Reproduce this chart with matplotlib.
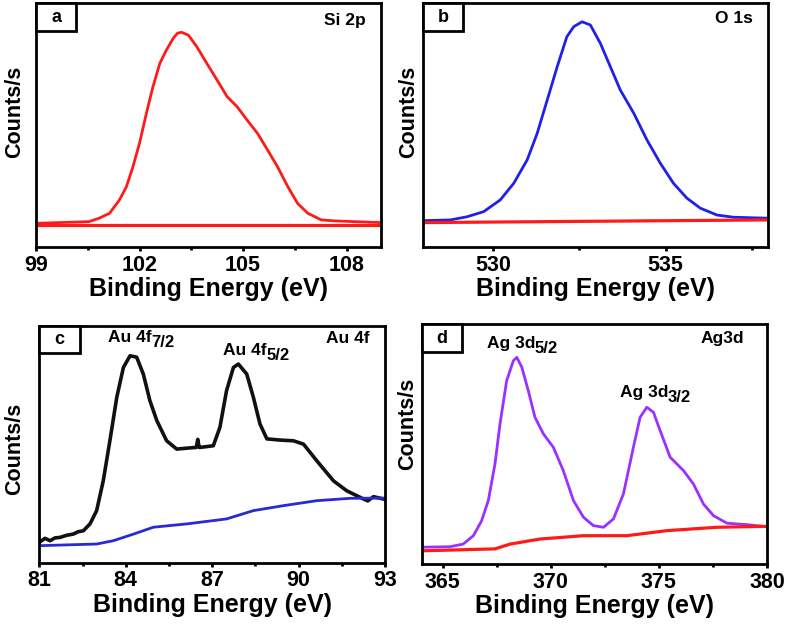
import matplotlib
matplotlib.use("Agg")
import matplotlib.pyplot as plt
from matplotlib.patches import Rectangle

plt.rcParams['font.family'] = ['Liberation Sans', 'DejaVu Sans']
plt.rcParams['font.weight'] = 'bold'

# ---------------- data ----------------
# (a) Si 2p
si_x = [99.0, 100.54, 100.83, 101.13, 101.42, 101.62, 101.81, 102.0, 102.2, 102.39, 102.59, 102.78,
        102.98, 103.1, 103.22, 103.42, 103.66, 103.95, 104.25, 104.54, 104.83, 105.12, 105.42, 105.71,
        106.0, 106.3, 106.58, 106.88, 107.27, 107.65, 109.0]
si_y = [9.7, 10.4, 11.8, 13.8, 19.3, 24.7, 32.9, 42.5, 54.8, 65.7, 75.3, 80.7, 85.6, 87.6, 88.0,
        86.8, 82.1, 75.3, 68.4, 61.6, 57.5, 52.0, 46.6, 39.8, 32.9, 24.7, 17.9, 13.8, 11.1, 10.7, 10.0]
si_bg_x = [99.0, 109.0]
si_bg_y = [9.0, 9.0]

# (b) O 1s
o_x = [527.97, 528.76, 529.25, 529.73, 530.21, 530.6, 530.99, 531.28, 531.57, 531.86, 532.14,
       532.34, 532.58, 532.82, 533.11, 533.4, 533.69, 534.08, 534.46, 534.85, 535.23, 535.62,
       536.01, 536.49, 536.97, 537.97]
o_y = [10.8, 11.1, 12.4, 14.5, 19.3, 26.1, 35.7, 46.6, 60.2, 73.9, 86.2, 90.3, 92.3, 91.0, 83.5,
       73.9, 64.3, 54.8, 43.9, 34.3, 26.1, 20.0, 15.9, 13.1, 12.2, 11.8]
o_bg_x = [527.97, 537.97]
o_bg_y = [10.0, 11.1]

# (c) Au 4f
au_x = [81.0, 81.2, 81.37, 81.55, 81.72, 81.95, 82.18, 82.35, 82.53, 82.76, 82.99, 83.22, 83.45,
        83.69, 83.92, 84.15, 84.38, 84.61, 84.84, 85.08, 85.42, 85.77, 86.23, 86.45, 86.5, 86.55,
        86.58, 87.04, 87.27, 87.5, 87.74, 87.91, 88.2, 88.43, 88.66, 88.9, 89.36, 89.82, 90.17,
        90.63, 91.21, 91.67, 92.14, 92.4, 92.6, 92.95]
au_y = [8.5, 10.2, 9.2, 10.4, 10.6, 11.5, 12.0, 13.0, 13.4, 16.3, 21.9, 34.5, 51.4, 69.8, 82.4,
        87.3, 86.7, 79.6, 68.3, 59.9, 51.4, 47.9, 48.4, 48.6, 52.0, 48.6, 48.6, 49.3, 57.1, 72.6,
        82.4, 83.8, 79.6, 69.8, 58.5, 52.2, 51.7, 51.4, 50.0, 43.0, 34.5, 30.3, 27.5, 26.0, 27.8, 26.8]
au_bg_x = [81.0, 82.99, 83.57, 84.27, 84.96, 86.12, 87.5, 88.43, 89.47, 90.63, 91.79, 92.95]
au_bg_y = [7.1, 7.8, 9.2, 12.0, 14.9, 16.3, 18.4, 21.9, 24.0, 26.1, 27.1, 27.2]

# (d) Ag 3d
ag_x = [364.07, 365.34, 365.95, 366.42, 366.8, 367.11, 367.42, 367.65, 367.96, 368.27, 368.43,
        368.66, 368.96, 369.27, 369.66, 370.12, 370.58, 371.05, 371.51, 371.97, 372.44, 372.9,
        373.36, 373.82, 374.13, 374.44, 374.75, 375.06, 375.52, 376.14, 376.6, 377.06, 377.53,
        378.15, 379.07, 380.0]
ag_y = [7.0, 7.2, 8.3, 11.8, 18.0, 26.4, 41.7, 58.3, 76.4, 84.7, 86.1, 82.0, 72.2, 61.1, 54.2,
        48.6, 38.9, 26.4, 19.5, 16.0, 15.3, 18.8, 29.2, 48.6, 61.1, 65.3, 63.2, 55.5, 44.5, 38.9,
        33.3, 25.0, 20.1, 17.0, 16.4, 15.5]
ag_bg_x = [364.07, 367.42, 368.12, 369.5, 371.51, 373.52, 375.37, 377.69, 380.0]
ag_bg_y = [5.5, 6.3, 8.3, 10.4, 11.8, 11.8, 13.9, 15.3, 15.7]

xlabel = "Binding Energy (eV)"
ylabel = "Counts/s"

# ---------------- figure ----------------
W, H = 787, 628
fig = plt.figure(figsize=(W / 100, H / 100), dpi=100)


def px_axes(l, t, r, b):
    return fig.add_axes([l / W, 1 - b / H, (r - l) / W, (b - t) / H])


ax_a = px_axes(36, 3, 381, 247)
ax_b = px_axes(423, 3, 768, 247)
ax_c = px_axes(39.3, 325.7, 385, 562.5)
ax_d = px_axes(421.7, 324, 767, 564)

LW = 2.0
RED = '#ff1a1a'
BLUE = '#2020e8'
BLUE2 = '#2a2ad2'
PURPLE = '#9b30ff'

ax_a.plot(si_bg_x, si_bg_y, color=RED, lw=LW + 0.3)
ax_a.plot(si_x, si_y, color=RED, lw=LW)

ax_b.plot(o_x, o_y, color=BLUE, lw=LW)
ax_b.plot(o_bg_x, o_bg_y, color=RED, lw=LW + 0.3)

ax_c.plot(au_x, au_y, color='#111111', lw=LW + 0.6)
ax_c.plot(au_bg_x, au_bg_y, color=BLUE2, lw=LW)

ax_d.plot(ag_x, ag_y, color=PURPLE, lw=LW)
ax_d.plot(ag_bg_x, ag_bg_y, color=RED, lw=LW + 0.3)

setup = [
    (ax_a, (99, 109), [99, 102, 105, 108], 1.5, 'a', (-0.032, 0.553)),
    (ax_b, (527.97, 537.97), [530, 535], 2.5, 'b', (-0.010, 0.553)),
    (ax_c, (81, 93), [81, 84, 87, 90, 93], 1.5, 'c', (-0.041, 0.479)),
    (ax_d, (364.03, 380), [365, 370, 375, 380], 2.5, 'd', (-0.010, 0.583)),
]

for ax, xl, ticks, minor, letter, ylc in setup:
    ax.set_xlim(*xl)
    ax.set_ylim(0, 100)
    ax.set_xticks(ticks)
    ax.set_xticks([t + minor for t in ticks[:-1]] +
                  ([ticks[-1] + minor] if ticks[-1] + minor < xl[1] else []), minor=True)
    ax.set_yticks([])
    ax.tick_params(axis='x', which='major', direction='out', length=3, width=2,
                   labelsize=15.5, pad=2.5)
    ax.tick_params(axis='x', which='minor', direction='out', length=2.5, width=2)
    for lab in ax.get_xticklabels():
        lab.set_fontweight('bold')
    for s in ax.spines.values():
        s.set_linewidth(2.0)
    ax.set_xlabel(xlabel, fontsize=18, fontweight='bold', labelpad=1)
    ax.set_ylabel(ylabel, fontsize=15.5, fontweight='bold')
    ax.yaxis.set_label_coords(*ylc)
    # letter box
    ax.add_patch(Rectangle((0, 0.885), 0.117, 0.115, transform=ax.transAxes,
                           facecolor='white', edgecolor='black', lw=2.0, clip_on=False, zorder=5))
    ax.text(0.058, 0.94, letter, transform=ax.transAxes, ha='center', va='center',
            fontsize=13, fontweight='bold', zorder=6)

# annotations
ax_a.text(0.955, 0.93, "Si 2p", transform=ax_a.transAxes, ha='right', va='center',
          fontsize=12.5, fontweight='bold')
ax_b.text(0.955, 0.935, "O 1s", transform=ax_b.transAxes, ha='right', va='center',
          fontsize=12.5, fontweight='bold')
ax_c.text(0.955, 0.945, "Au 4f", transform=ax_c.transAxes, ha='right', va='center',
          fontsize=12.5, fontweight='bold')
ax_d.text(0.935, 0.94, "Ag3d", transform=ax_d.transAxes, ha='right', va='center',
          fontsize=12.5, fontweight='bold')


def peak_label(ax, x, y, main, sub):
    t = ax.text(x, y, main, ha='left', va='center', fontsize=12.5, fontweight='bold')
    ax.annotate(sub, xy=(1.0, 0.0), xycoords=t, xytext=(-0.5, -3.5),
                textcoords='offset points', ha='left', va='bottom',
                fontsize=12, fontweight='bold')


peak_label(ax_c, 83.39, 95.1, "Au 4f", "7/2")
peak_label(ax_c, 87.39, 89.4, "Au 4f", "5/2")
peak_label(ax_d, 367.04, 91.7, "Ag 3d", "5/2")
peak_label(ax_d, 373.21, 71.5, "Ag 3d", "3/2")

fig.savefig("out.png", dpi=100)
